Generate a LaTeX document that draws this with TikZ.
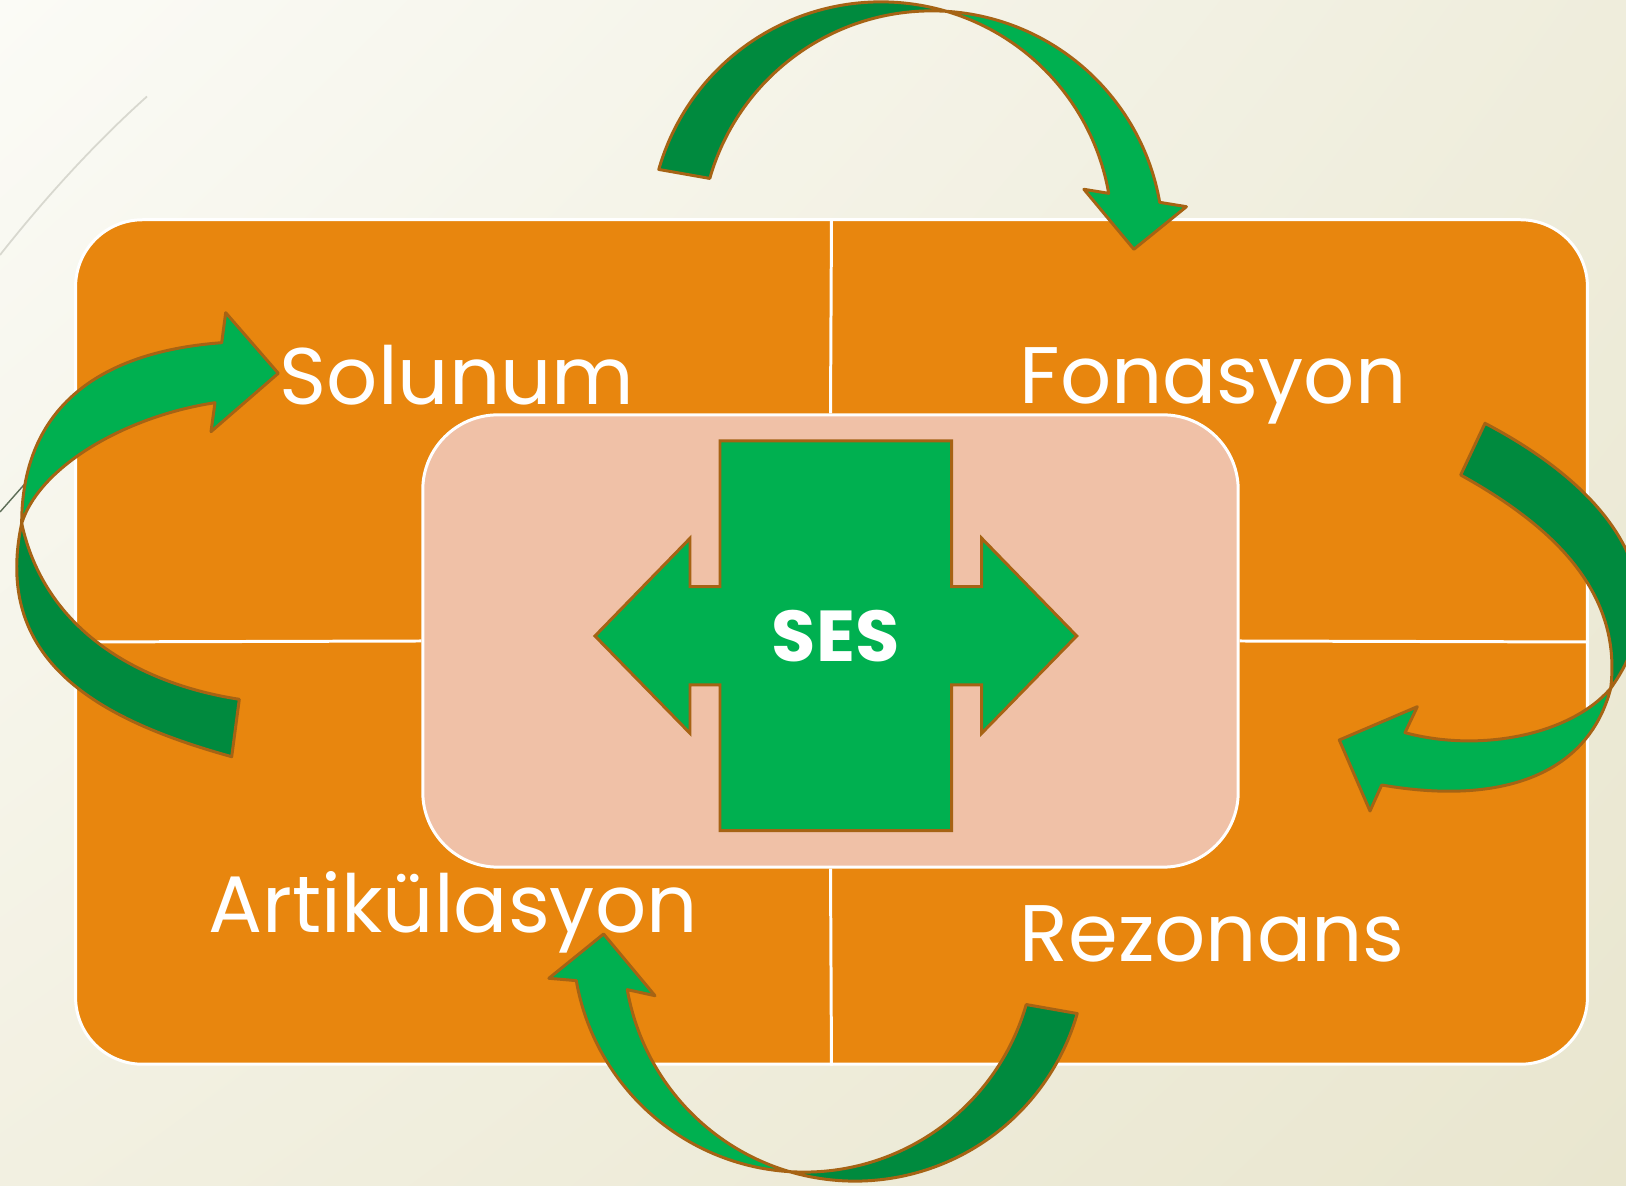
\documentclass[tikz,border=0pt]{standalone}
\usepackage{fontspec}
\setmainfont{Poppins}
\usetikzlibrary{calc,shadings}
\definecolor{orangeQ}{HTML}{E8860E}
\definecolor{peach}{HTML}{F0C1A7}
\definecolor{gbright}{HTML}{00B050}
\definecolor{gdark}{HTML}{008A3E}
\definecolor{brownline}{HTML}{A66314}
\definecolor{bgTL}{HTML}{FBFBF6}
\definecolor{bgTR}{HTML}{EFEDDC}
\definecolor{bgBL}{HTML}{F2F0E1}
\definecolor{bgBR}{HTML}{E9E6CF}
\definecolor{faintline}{HTML}{D8D8CF}
\definecolor{darkline}{HTML}{5E6E58}
\tikzset{
  quadlbl/.style={text=white, inner sep=0pt, anchor=base west, font=\fontsize{22.8}{27}\selectfont},
  arrowpart/.style={draw=brownline, line width=0.85pt, line join=round},
  divider/.style={draw=white, line width=0.85pt},
}
\begin{document}
\begin{tikzpicture}[x=0.01cm, y=0.01cm, yscale=-1]
\useasboundingbox (0,0) rectangle (1626,1186);
\clip (0,0) rectangle (1626,1186);
% background
\shade[upper left=bgTL, upper right=bgTR, lower left=bgBL, lower right=bgBR] (0,0) rectangle (1626,1186);
\draw[faintline, line width=0.5pt] (0,255) .. controls (45,198) and (95,143) .. (147,96.5);
\draw[darkline, line width=0.4pt] (0,512) -- (30,478);

% matrix block
\node[draw=white, line width=0.85pt, fill=orangeQ, rounded corners=0.67cm,
      minimum width=15.11cm, minimum height=8.44cm, inner sep=0pt] (block) at (831.5,642) {};
\node[draw=white, line width=0.85pt, fill=peach, rounded corners=0.75cm,
      minimum width=8.15cm, minimum height=4.52cm, inner sep=0pt] (core) at (830.5,641) {};
\draw[divider] (block.north) -- (core.north);
\draw[divider] (core.south) -- (block.south);
\draw[divider] (block.west) -- (core.west);
\draw[divider] (core.east) -- (block.east);

% labels
\node[quadlbl] (solunum) at (279,404.5) {Solunum};
\node[quadlbl] (fonasyon) at (1019,404) {Fonasyon};
\node[quadlbl] (artik) at (208,933) {Artikülasyon};
\node[quadlbl] (rezonans) at (1019,962) {Rezonans};

% central double arrow
\filldraw[arrowpart, fill=gbright, line join=miter]
  (720,441) -- (951.7,441) -- (951.7,586.7) -- (981.7,586.7) -- (981.7,538.3)
  -- (1076.7,636) -- (981.7,733.3) -- (981.7,685) -- (951.7,685) -- (951.7,830.7)
  -- (720,830.7) -- (720,685) -- (690,685) -- (690,733.3) -- (595,636)
  -- (690,538.3) -- (690,586.7) -- (720,586.7) -- cycle;
\node[text=white, inner sep=0pt, font=\bfseries\fontsize{20.5}{24}\selectfont] (ses) at (835.8,636.5) {SES};

% top curved arrow
\filldraw[arrowpart, fill=gdark]
  ($(881,233)+(195.96:2.31cm)$) arc[start angle=195.96, end angle=286.45, radius=2.31cm]
  -- ($(932,242)+(273.57:2.31cm)$) arc[start angle=273.57, end angle=195.96, radius=2.31cm] -- cycle;
\filldraw[arrowpart, fill=gbright]
  ($(881,233)+(286.45:2.31cm)$) arc[start angle=286.45, end angle=350.12, radius=2.31cm]
  -- (1083.9,189.3) -- (1133.9,249.3) -- (1186.4,206.7)
  -- ($(932,242)+(350.12:2.31cm)$) arc[start angle=350.12, end angle=273.57, radius=2.31cm] -- cycle;

% bottom curved arrow
\filldraw[arrowpart, fill=gdark]
  ($(855,950)+(15.96:2.31cm)$) arc[start angle=15.96, end angle=106.45, radius=2.31cm]
  -- ($(804,941)+(93.57:2.31cm)$) arc[start angle=93.57, end angle=15.96, radius=2.31cm] -- cycle;
\filldraw[arrowpart, fill=gbright]
  ($(855,950)+(106.45:2.31cm)$) arc[start angle=106.45, end angle=170.12, radius=2.31cm]
  -- (655,995.7) -- (603.6,934) -- (548.9,978.3)
  -- ($(804,941)+(170.12:2.31cm)$) arc[start angle=170.12, end angle=93.57, radius=2.31cm] -- cycle;

% left curved arrow
\filldraw[arrowpart, fill=gdark]
  (231.7,756.7) .. controls (96.7,719.3) and (-7.6,660.2) .. (21.7,523.3)
  .. controls (44.7,630.9) and (140.4,684.2) .. (239.3,699.3) -- cycle;
\filldraw[arrowpart, fill=gbright]
  (21.7,523.3) .. controls (39.7,466.1) and (126,416.2) .. (215,402.7)
  -- (211,431.7) -- (278.3,373.3) -- (225.7,312.7) -- (221.7,342.7)
  .. controls (92.1,352.3) and (21.7,413.3) .. (21.7,523.3) -- cycle;

% right curved arrow
\filldraw[arrowpart, fill=gdark]
  (1485,423.3) .. controls (1617.8,493) and (1680.7,590.9) .. (1610.7,688.3)
  .. controls (1622.7,589) and (1548.1,523.6) .. (1460.7,475) -- cycle;
\filldraw[arrowpart, fill=gbright]
  (1610.7,688.3) .. controls (1571.7,733.9) and (1482.3,753.3) .. (1405,732.7)
  -- (1417.3,706.7) -- (1339.3,740) -- (1370,811) -- (1381.7,785)
  .. controls (1499.9,805.6) and (1588.2,775.6) .. (1610.7,688.3) -- cycle;
\end{tikzpicture}
\end{document}
